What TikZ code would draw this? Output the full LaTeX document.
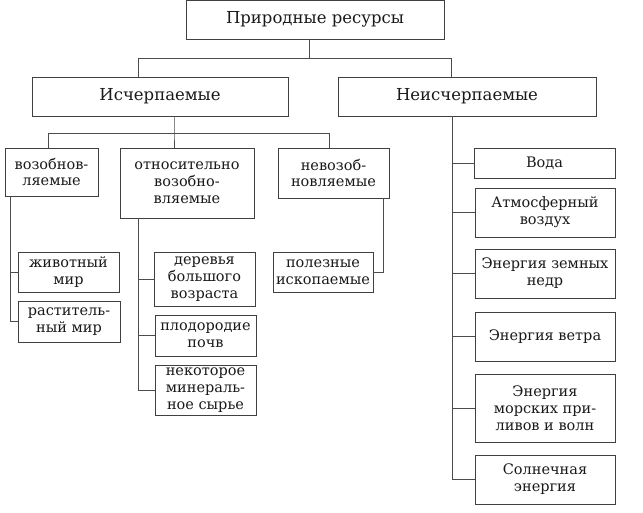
\documentclass[tikz,border=0pt]{standalone}
\usepackage{fontspec}
\setmainfont{DejaVu Serif}
\tikzset{
  box/.style={draw=black!75, line width=0.8pt, align=center, inner sep=0pt,
    font=\fontsize{14.5}{16.8}\selectfont, text=black!90},
  head/.style={box, font=\fontsize{16.5}{19}\selectfont},
  link/.style={draw=black!70, line width=0.8pt}
}

\begin{document}
\begin{tikzpicture}[x=1pt,y=-1pt]
    \useasboundingbox (0,0) rectangle (643,513);

    % top levels
    \node[head, minimum width=258, minimum height=39] (top) at (315,19.5) {Природные ресурсы};
    \node[head, minimum width=256, minimum height=39] (isch) at (160,96.5) {Исчерпаемые};
    \node[head, minimum width=258, minimum height=39] (neisch) at (467,96.5) {Неисчерпаемые};

    % exhaustible groups
    \node[box, minimum width=93, minimum height=48] (vozob) at (51.5,172) {возобнов-\\ляемые};
    \node[box, minimum width=134, minimum height=70] (otnos) at (187,183) {относительно\\возобно-\\вляемые};
    \node[box, minimum width=111, minimum height=50] (nevoz) at (333.5,173) {невозоб-\\новляемые};

    \node[box, minimum width=101, minimum height=40] (zhiv) at (68.5,272) {животный\\мир};
    \node[box, minimum width=102, minimum height=41] (rast) at (69,321.5) {раститель-\\ный мир};

    \node[box, minimum width=101, minimum height=54] (derev) at (204.5,279) {деревья\\большого\\возраста};
    \node[box, minimum width=101, minimum height=41] (plod) at (205.5,335.5) {плодородие\\почв};
    \node[box, minimum width=101, minimum height=50] (nekot) at (205.5,390) {некоторое\\минераль-\\ное сырье};

    \node[box, minimum width=100, minimum height=40] (polez) at (323,272) {полезные\\ископаемые};

    % inexhaustible
    \node[box, minimum width=141, minimum height=30] (voda) at (544.5,163) {Вода};
    \node[box, minimum width=140, minimum height=49] (atm) at (545,212.5) {Атмосферный\\воздух};
    \node[box, minimum width=140, minimum height=49] (zemn) at (545,273.5) {Энергия земных\\недр};
    \node[box, minimum width=140, minimum height=49] (veter) at (545,336.5) {Энергия ветра};
    \node[box, minimum width=140, minimum height=68] (mor) at (545,408) {Энергия\\морских при-\\ливов и волн};
    \node[box, minimum width=140, minimum height=49] (soln) at (545,479.5) {Солнечная\\энергия};

    % junctions
    \coordinate (j0) at (309,58);
    \coordinate (j1) at (138,58);
    \coordinate (j2) at (451,58);
    \coordinate (a1) at (48,133);
    \coordinate (a2) at (174,133);
    \coordinate (a3) at (329,133);
    \coordinate (b1) at (10,0);
    \coordinate (c1) at (138,0);
    \coordinate (d1) at (383,0);
    \coordinate (e1) at (452,0);

    \draw[link] (top.south -| j0) -- (j0);
    \draw[link] (isch.north -| j1) |- (j2) -- (neisch.north -| j2);

    \draw[link] (isch.south -| a2) -- (a2) -- (otnos.north -| a2);
    \draw[link] (vozob.north -| a1) |- (a3) -- (nevoz.north -| a3);

    \draw[link] (vozob.south -| b1) |- (rast.west);
    \draw[link] (zhiv.west) -- (zhiv.west -| b1);

    \draw[link] (otnos.south -| c1) |- (nekot.west);
    \draw[link] (derev.west) -- (derev.west -| c1);
    \draw[link] (plod.west) -- (plod.west -| c1);

    \draw[link] (nevoz.south -| d1) |- (polez.east);

    \draw[link] (neisch.south -| e1) |- (soln.west);
    \draw[link] (voda.west) -- (voda.west -| e1);
    \draw[link] (atm.west) -- (atm.west -| e1);
    \draw[link] (zemn.west) -- (zemn.west -| e1);
    \draw[link] (veter.west) -- (veter.west -| e1);
    \draw[link] (mor.west) -- (mor.west -| e1);
\end{tikzpicture}
\end{document}
